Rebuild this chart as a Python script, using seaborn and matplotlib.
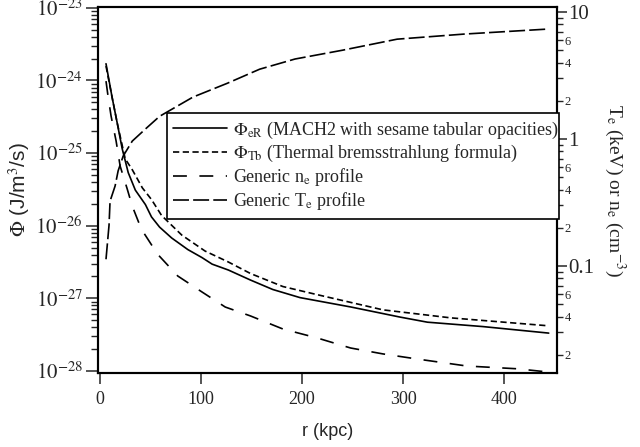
import numpy as np
import pandas as pd
import matplotlib
matplotlib.use("Agg")
import matplotlib.pyplot as plt
import matplotlib.ticker as mticker
from matplotlib.lines import Line2D
import seaborn as sns

# Radiative cooling rates (left axis, J/m^3/s)
r_eR = [6, 12, 17, 22, 28, 35, 45, 51, 59, 71, 87, 101, 111, 127, 149, 171, 198, 248, 297, 324, 379, 444]
phi_eR = [1.70e-24, 5.89e-25, 2.63e-25, 1.15e-25, 5.37e-26, 3.09e-26, 1.95e-26, 1.32e-26,
          9.55e-27, 6.76e-27, 4.68e-27, 3.63e-27, 2.95e-27, 2.45e-27, 1.78e-27, 1.32e-27,
          1.02e-27, 7.59e-28, 5.50e-28, 4.68e-28, 4.07e-28, 3.31e-28]

r_Tb = [6, 12, 17, 25, 32, 42, 51, 61, 81, 104, 127, 149, 181, 215, 280, 347, 444]
phi_Tb = [1.58e-24, 5.89e-25, 2.63e-25, 8.32e-26, 5.89e-26, 3.31e-26, 2.29e-26, 1.38e-26,
          7.41e-27, 4.47e-27, 3.16e-27, 2.19e-27, 1.45e-27, 1.12e-27, 6.92e-28, 5.37e-28, 4.17e-28]

# Generic plasma profiles (right axis)
r_ne = [6, 8, 11, 16, 20, 27, 32, 41, 57, 77, 101, 124, 149, 181, 215, 248, 280, 314, 363, 413, 444]
n_e = [2.86, 2.18, 1.52, 0.964, 0.612, 0.404, 0.296, 0.195, 0.124, 0.0834, 0.0624, 0.0475,
       0.0404, 0.0319, 0.0271, 0.0226, 0.0203, 0.0185, 0.0163, 0.0155, 0.0146]

r_Te = [6, 9, 10, 15, 18, 23, 32, 46, 59, 92, 126, 158, 193, 240, 294, 360, 443]
T_e = [0.113, 0.210, 0.324, 0.427, 0.562, 0.735, 0.964, 1.22, 1.51, 2.14, 2.75, 3.55,
       4.27, 5.01, 6.12, 6.71, 7.35]

x_ticks = [0, 100, 200, 300, 400]
labels = [r"$\Phi_{\rm eR}$ (MACH2 with sesame tabular opacities)",
          r"$\Phi_{\rm Tb}$ (Thermal bremsstrahlung formula)",
          r"Generic n$_{\rm e}$ profile",
          r"Generic T$_{\rm e}$ profile"]

sns.set_style("ticks")
plt.rcParams["font.family"] = ["Liberation Serif", "DejaVu Serif"]
plt.rcParams["mathtext.fontset"] = "stix"
plt.rcParams["lines.scale_dashes"] = False
plt.rcParams["axes.linewidth"] = 1.5

fig = plt.figure(figsize=(6.4, 4.47), dpi=100)
ax = fig.add_axes([0.153, 0.1655, 0.717, 0.8185])
ax2 = ax.twinx()

lw = 1.2
dash_patterns = [None, (4.5, 2.5), (10, 9), (11.5, 3)]

sns.lineplot(x=r_eR, y=phi_eR, ax=ax, color="black", linewidth=lw, legend=False)
sns.lineplot(x=r_Tb, y=phi_Tb, ax=ax, color="black", linewidth=lw, legend=False)
sns.lineplot(x=r_ne, y=n_e, ax=ax2, color="black", linewidth=lw, legend=False)
sns.lineplot(x=r_Te, y=T_e, ax=ax2, color="black", linewidth=lw, legend=False)

ax.lines[1].set_dashes(dash_patterns[1])
ax2.lines[0].set_dashes(dash_patterns[2])
ax2.lines[1].set_dashes(dash_patterns[3])

# Left axis
ax.set_yscale("log")
ax.set_xlim(-2, 452)
ax.set_ylim(10 ** -28.03, 10 ** -22.99)
ax.set_xticks(x_ticks)
ax.set_xticklabels([str(v) for v in x_ticks])
ax.yaxis.set_major_locator(mticker.LogLocator(base=10, numticks=20))
ax.yaxis.set_minor_locator(mticker.LogLocator(base=10, subs=np.arange(2, 10), numticks=20))
ax.yaxis.set_minor_formatter(mticker.NullFormatter())
ax.yaxis.set_major_formatter(mticker.FuncFormatter(
    lambda v, p: r"$10^{%d}$" % int(round(np.log10(v)))))
ax.tick_params(axis="y", which="major", length=9, width=1.1, labelsize=15, direction="out", pad=2)
ax.tick_params(axis="y", which="minor", length=5, width=1.0, direction="out")
ax.tick_params(axis="x", which="major", length=8, width=1.1, labelsize=13, direction="out", pad=5)
ax.set_xlabel("r (kpc)", family="Liberation Sans", fontsize=13, labelpad=11)
ax.set_ylabel(r"$\Phi$ (J/m$^3$/s)", family="Liberation Sans", fontsize=15, labelpad=2)

# Right axis
ax2.set_yscale("log")
ax2.set_ylim(10 ** -1.843, 10 ** 1.039)
ax2.yaxis.set_major_locator(mticker.LogLocator(base=10, numticks=10))
ax2.yaxis.set_minor_locator(mticker.LogLocator(base=10, subs=np.arange(2, 10), numticks=10))


def major_fmt(v, p):
    e = int(round(np.log10(v)))
    return "%g" % (10.0 ** e)


def minor_fmt(v, p):
    e = np.floor(np.log10(v) + 1e-9)
    d = int(round(v / 10 ** e))
    return str(d) if d in (2, 4, 6) else ""


ax2.yaxis.set_major_formatter(mticker.FuncFormatter(major_fmt))
ax2.yaxis.set_minor_formatter(mticker.FuncFormatter(minor_fmt))
ax2.tick_params(axis="y", which="major", length=7, labelsize=15, direction="out", pad=1, width=1.1)
ax2.tick_params(axis="y", which="minor", length=4.5, labelsize=9, direction="out", pad=1, width=1.0)
ax2.set_ylabel(r"T$_{\rm e}$ (keV) or n$_{\rm e}$ (cm$^{-3}$)", fontsize=14,
               rotation=270, labelpad=24)

for a in (ax, ax2):
    for s in a.spines.values():
        s.set_linewidth(1.5)
        s.set_color("black")

handles = [Line2D([], [], color="black", linewidth=lw, linestyle="-")]
for d in dash_patterns[1:]:
    h = Line2D([], [], color="black", linewidth=lw)
    h.set_dashes(d)
    handles.append(h)

leg = ax2.legend(handles, labels, loc="upper left", bbox_to_anchor=(0.150, 0.432, 0.854, 0.278),
                 mode="expand", fontsize=13, frameon=True, fancybox=False, framealpha=1,
                 edgecolor="black", handlelength=3.0, handletextpad=0.3, labelspacing=0.12,
                 borderpad=0.35, borderaxespad=0)
leg.get_frame().set_linewidth(1.2)

fig.savefig("out.png", dpi=100)
